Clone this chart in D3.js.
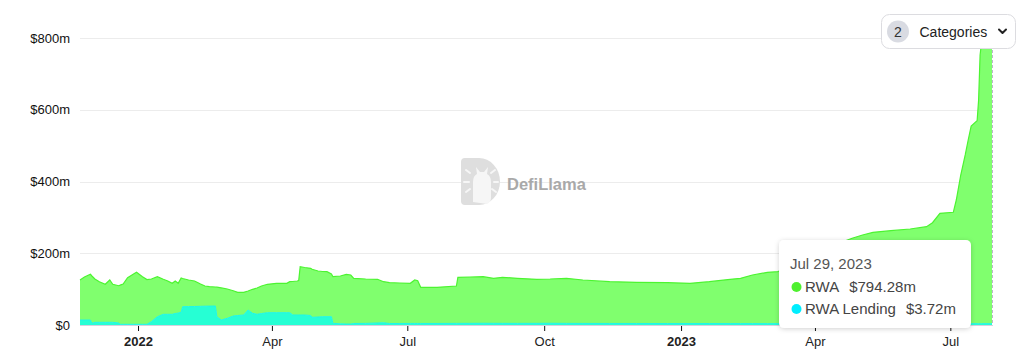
<!DOCTYPE html>
<html>
<head>
<meta charset="utf-8">
<script src="https://cdn.jsdelivr.net/npm/d3@7"></script>
<style>
  html, body { margin: 0; padding: 0; background: #fff; }
  svg { display: block; font-family: "Liberation Sans", Arial, Helvetica, sans-serif; }
</style>
</head>
<body>
<svg id="chart" width="1024" height="360"></svg>
<script>
// ---- data (values in $ millions) ----
const dates = [
"2021-11-23","2021-11-26","2021-11-30","2021-12-01","2021-12-03","2021-12-06","2021-12-10","2021-12-13","2021-12-15","2021-12-19",
"2021-12-20","2021-12-22","2021-12-25","2021-12-29","2021-12-31","2022-01-04","2022-01-07","2022-01-10","2022-01-14","2022-01-18",
"2022-01-21","2022-01-24","2022-01-26","2022-01-28","2022-01-30","2022-01-31","2022-02-04","2022-02-08","2022-02-12","2022-02-15",
"2022-02-18","2022-02-22","2022-02-23","2022-02-26","2022-03-02","2022-03-06","2022-03-09","2022-03-13","2022-03-16","2022-03-19",
"2022-03-22","2022-03-25","2022-03-29","2022-04-04","2022-04-11","2022-04-13","2022-04-15","2022-04-18","2022-04-19","2022-04-20",
"2022-04-23","2022-04-27","2022-04-28","2022-05-02","2022-05-05","2022-05-08","2022-05-11","2022-05-12","2022-05-17","2022-05-21",
"2022-05-24","2022-05-26","2022-06-03","2022-06-11","2022-06-15","2022-06-19","2022-06-26","2022-07-03","2022-07-06","2022-07-08",
"2022-07-10","2022-07-21","2022-08-03","2022-08-04","2022-08-12","2022-08-21","2022-08-28","2022-09-03","2022-09-13","2022-09-26",
"2022-10-05","2022-10-16","2022-10-27","2022-11-14","2022-12-02","2022-12-23","2023-01-07","2023-01-20","2023-02-03","2023-02-10",
"2023-02-18","2023-02-28","2023-03-07","2023-03-15","2023-03-22","2023-04-01","2023-04-11","2023-04-21","2023-04-26","2023-05-03",
"2023-05-10","2023-05-22","2023-06-04","2023-06-15","2023-06-19","2023-06-24","2023-07-03","2023-07-05","2023-07-08","2023-07-11",
"2023-07-13","2023-07-15","2023-07-19","2023-07-20","2023-07-21","2023-07-22","2023-07-25","2023-07-28","2023-07-29"
];
const rwa = [
111.5,119.9,127.4,131.9,120.7,113.2,106,117.9,106,103.9,
109,112.3,129.9,140.2,144.9,132.6,124.8,119,111.5,97.6,
92.9,86.4,90.7,82.8,95.6,78.6,74.1,71.1,62.2,56.3,
54.1,52.9,82.3,89.5,81.7,70.5,64.7,63.3,53,66.9,
73.3,76.7,79.2,81.9,81.9,86.4,93.4,94.8,96.1,134.6,
132.4,131.5,133.8,128.2,126,125.5,119.1,129.9,133.3,138.5,
136.6,126,123.7,121.8,114.6,113.7,112.9,111.8,121,119.1,
100.8,100.8,104.2,128.5,129.2,129.8,125.5,128.4,125.7,122.8,
123.4,125.7,121,116.4,114.8,113.8,112.2,116.6,123.4,126.3,
135.5,143.1,144.8,155.1,171.8,191.4,210.9,230.5,238,247.2,
254.7,259.2,263.9,270.3,281.5,307.7,310.5,344.7,414.4,470.2,
512,551,565.8,623.5,748.9,785.2,790.8,793.5,794.28
];
const lending = [
13.9,13.9,13.9,4.7,7.5,7.5,7.5,7.5,7.5,5.6,
2,2,2,2,2,2,2,9.2,23.1,29.8,
29.8,29.8,32,33.4,35.4,51,51.3,51.6,52.1,52.4,
52.7,53,23.1,13.9,18.7,25.1,26.5,27.9,41.8,32.6,
29.8,32,34.3,34.3,34.3,34.3,27.9,27.9,27.9,27.9,
27.9,26.5,21.5,22.3,23.1,23.1,23.1,4.7,3.3,2.8,
2.8,4.2,4.5,5.6,6.1,4.2,4.2,4.4,4.4,4.4,
4.3,4.3,4.5,4.5,4.6,4.8,4.7,4.6,4.5,4.6,
4.8,4.5,4.4,4.3,4.2,4.1,4.0,4.1,4.0,3.9,
3.9,3.8,3.8,3.8,3.8,3.7,3.7,3.7,3.7,3.7,
3.7,3.7,3.7,3.7,3.7,3.7,3.7,3.7,3.7,3.7,
3.7,3.7,3.7,3.7,3.7,3.7,3.7,3.7,3.72
];
const seriesNames = ["RWA", "RWA Lending"];
const yTicks = [0, 200, 400, 600, 800];
const xTickDates = ["2022-01-01","2022-04-01","2022-07-01","2022-10-01","2023-01-01","2023-04-01","2023-07-01"];
const xTickLabels = ["2022","Apr","Jul","Oct","2023","Apr","Jul"];
const tooltipDate = "Jul 29, 2023";
const tooltipValues = ["$794.28m", "$3.72m"];
const categoryCount = 2;

// ---- setup ----
const parse = d3.utcParse("%Y-%m-%d");
const table = dates.map((d, i) => ({ date: parse(d), rwa: rwa[i], lending: lending[i] }));

const svg = d3.select("#chart");
const mLeft = 80, mRight = 992, mTop = 38, mBottom = 325;

const x = d3.scaleUtc()
  .domain([parse(dates[0]), parse(dates[dates.length - 1])])
  .range([mLeft, mRight]);
const y = d3.scaleLinear().domain([0, 800]).range([mBottom, mTop]);

const colors = { rwa: "#80ff6e", rwaLine: "#4cf431", lending: "#26ffd4", lendingLine: "#1ef6e8" };
const FONT = "'Liberation Sans', Arial, sans-serif";

// gridlines
svg.append("g")
  .selectAll("line")
  .data(yTicks.filter(t => t > 0))
  .join("line")
  .attr("x1", mLeft).attr("x2", mRight + 1)
  .attr("y1", d => Math.round(y(d)) + 0.5).attr("y2", d => Math.round(y(d)) + 0.5)
  .attr("stroke", "#ececec").attr("stroke-width", 1);

// y axis
const yAxis = svg.append("g")
  .attr("transform", `translate(${mLeft},0)`)
  .call(d3.axisLeft(y).tickValues(yTicks).tickSize(0).tickPadding(10)
    .tickFormat(d => d === 0 ? "$0" : `$${d}m`));
yAxis.select(".domain").remove();
yAxis.selectAll("text").attr("font-size", 13).attr("fill", "#111").attr("font-family", FONT);

// watermark
const wm = svg.append("g").attr("transform", "translate(461,158)");
wm.append("path")
  .attr("d", "M4,0 H18 A21,23.5 0 0 1 18,47 H4 A4,4 0 0 1 0,43 V4 A4,4 0 0 1 4,0 Z")
  .attr("fill", "#dedede");
wm.append("path")
  .attr("d", "M12,44 V24 Q12,18 16,16 L15,9 L19,14 L23,14 L27,9 L26,16 Q30,18 30,24 V40 Q30,44 26,46 Z")
  .attr("fill", "#f6f6f6");
[[5,12,9,15],[3,24,8,24],[5,34,9,31],[34,12,30,15],[37,24,33,24],[35,34,31,31]].forEach(l => {
  wm.append("line").attr("x1", l[0]).attr("y1", l[1]).attr("x2", l[2]).attr("y2", l[3])
    .attr("stroke", "#f6f6f6").attr("stroke-width", 2).attr("stroke-linecap", "round");
});
svg.append("text").attr("x", 507).attr("y", 190)
  .attr("font-size", 16.5).attr("font-weight", "bold").attr("fill", "#a9a9a9")
  .attr("font-family", FONT).text("DefiLlama");

// stacked areas
const stack = d3.stack().keys(["lending", "rwa"]);
const layers = stack(table);

const area = d3.area()
  .x(d => x(d.data.date))
  .y0(d => y(d[0]))
  .y1(d => y(d[1]))
  .curve(d3.curveLinear);
const topLine = d3.line()
  .x(d => x(d.data.date))
  .y(d => y(d[1]))
  .curve(d3.curveLinear);

svg.append("path").datum(layers[1]).attr("d", area).attr("fill", colors.rwa);
svg.append("path").datum(layers[1]).attr("d", topLine)
  .attr("fill", "none").attr("stroke", colors.rwaLine).attr("stroke-width", 1.2);
svg.append("path").datum(layers[0]).attr("d", area).attr("fill", colors.lending);
svg.append("path").datum(layers[0]).attr("d", topLine)
  .attr("fill", "none").attr("stroke", colors.lendingLine).attr("stroke-width", 1);

// x axis
const xAxis = svg.append("g")
  .attr("transform", `translate(0,${mBottom})`)
  .call(d3.axisBottom(x).tickValues(xTickDates.map(parse)).tickSize(6).tickPadding(6)
    .tickFormat((d, i) => xTickLabels[i]));
xAxis.select(".domain").attr("stroke", "#d4d2de").attr("d", `M${mLeft},0.5H${mRight + 1}`);
xAxis.selectAll(".tick line").attr("stroke", "#111").attr("y1", 1);
xAxis.selectAll("text")
  .attr("font-size", 13).attr("fill", "#222").attr("font-family", FONT)
  .attr("font-weight", (d, i) => /^\d{4}$/.test(xTickLabels[i]) ? "bold" : "normal");

// hover dashed line
const lastX = x(parse(dates[dates.length - 1]));
svg.append("line")
  .attr("x1", Math.round(lastX) + 0.5).attr("x2", Math.round(lastX) + 0.5)
  .attr("y1", mTop - 8).attr("y2", mBottom)
  .attr("stroke", "#bdb6cc").attr("stroke-width", 1).attr("stroke-dasharray", "3,2");

// shadow filter
const defs = svg.append("defs");
const f = defs.append("filter").attr("id", "shadow").attr("x", "-20%").attr("y", "-20%").attr("width", "140%").attr("height", "140%");
f.append("feDropShadow").attr("dx", 0).attr("dy", 1).attr("stdDeviation", 2.5)
  .attr("flood-color", "#000").attr("flood-opacity", 0.18);

// tooltip
const tt = svg.append("g").attr("transform", "translate(779,240)");
tt.append("rect").attr("width", 192).attr("height", 88).attr("rx", 5)
  .attr("fill", "#fff").attr("filter", "url(#shadow)");
tt.append("text").attr("x", 11).attr("y", 28.5).attr("font-size", 15).attr("fill", "#555")
  .attr("font-family", FONT).text(tooltipDate);
const dotColors = ["#4ff02f", "#00eeff"];
seriesNames.forEach((name, i) => {
  const cy = 47 + i * 22;
  tt.append("circle").attr("cx", 17.5).attr("cy", cy).attr("r", 5).attr("fill", dotColors[i]);
  const t = tt.append("text").attr("x", 26).attr("y", cy + 5)
    .attr("font-size", 15).attr("fill", "#444").attr("font-family", FONT);
  t.append("tspan").text(name);
  t.append("tspan").attr("dx", 10).text(tooltipValues[i]);
});

// categories button
const btn = svg.append("g").attr("transform", "translate(881,14)");
btn.append("rect").attr("x", 0.5).attr("y", 0.5).attr("width", 134).attr("height", 34).attr("rx", 8)
  .attr("fill", "#fff").attr("stroke", "#dcdce0");
btn.append("circle").attr("cx", 17).attr("cy", 17.5).attr("r", 11).attr("fill", "#d9dbe2");
btn.append("text").attr("x", 17).attr("y", 22.5).attr("text-anchor", "middle")
  .attr("font-size", 14).attr("fill", "#333").attr("font-family", FONT).text(categoryCount);
btn.append("text").attr("x", 38.5).attr("y", 22.5)
  .attr("font-size", 14).attr("fill", "#222").attr("font-family", FONT).text("Categories");
btn.append("path").attr("d", "M118,15.5 L121.5,19 L125,15.5")
  .attr("fill", "none").attr("stroke", "#222").attr("stroke-width", 2)
  .attr("stroke-linecap", "round").attr("stroke-linejoin", "round");
</script>
</body>
</html>
